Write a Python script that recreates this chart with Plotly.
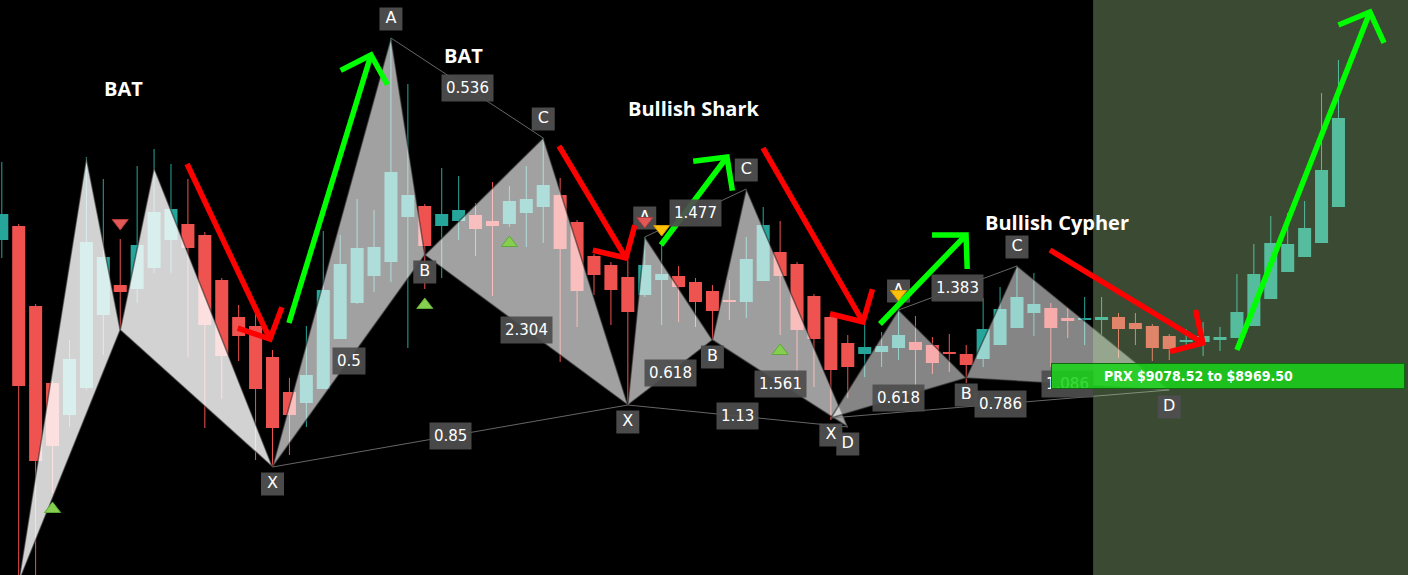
import math
import plotly.graph_objects as go

# ---------------- candle data (price) ----------------
opens = [9160, 9174, 9094, 9017, 8985, 9012, 9085, 9115, 9111, 9132,
         9160, 9176, 9165, 9120, 9083, 9074, 9043, 9008, 8997, 9011,
         9061, 9097, 9124, 9138, 9183, 9194, 9174, 9179, 9185, 9179,
         9176, 9187, 9193, 9205, 9178, 9144, 9135, 9123, 9105, 9120,
         9124, 9118, 9109, 9099, 9098, 9119, 9148, 9136, 9104, 9083,
         9057, 9046, 9048, 9052, 9058, 9055, 9047, 9046, 9041, 9055,
         9072, 9087, 9092, 9082, 9080, 9080, 9083, 9077, 9074, 9064,
         9058, 9058, 9060, 9062, 9074, 9101, 9128, 9143, 9157, 9193]
highs = [9238, 9176, 9096, 9019, 9060, 9243, 9221, 9161, 9234, 9251,
         9236, 9221, 9168, 9122, 9095, 9087, 9050, 9022, 9074, 9169,
         9165, 9201, 9190, 9362, 9316, 9196, 9232, 9224, 9197, 9218,
         9214, 9234, 9262, 9222, 9180, 9146, 9138, 9140, 9163, 9155,
         9134, 9122, 9115, 9120, 9163, 9193, 9179, 9138, 9106, 9085,
         9065, 9077, 9068, 9090, 9084, 9063, 9066, 9055, 9102, 9113,
         9134, 9127, 9097, 9092, 9103, 9103, 9087, 9087, 9076, 9066,
         9071, 9078, 9073, 9126, 9156, 9184, 9187, 9199, 9307, 9340]
lows = [9142, 8810, 8810, 8907, 8973, 9010, 9045, 9070, 9097, 9127,
        9127, 9043, 8972, 9001, 9039, 8940, 8933, 8945, 8973, 9011,
        9061, 9096, 9108, 9118, 9052, 9111, 9122, 9160, 9144, 9104,
        9173, 9153, 9157, 9038, 9073, 9105, 9075, 8995, 9103, 9075,
        9078, 9073, 9060, 9080, 9082, 9119, 9065, 9023, 9013, 8980,
        9002, 9023, 9033, 9040, 9007, 9026, 9028, 9017, 9033, 9055,
        9072, 9064, 9033, 9062, 9055, 9065, 9042, 9055, 9039, 9040,
        9050, 9044, 9049, 9062, 9074, 9101, 9128, 9143, 9157, 9193]
closes = [9186, 9014, 8939, 8954, 9041, 9158, 9143, 9108, 9155, 9188,
          9191, 9152, 9075, 9044, 9064, 9011, 8972, 8985, 9025, 9110,
          9136, 9152, 9153, 9228, 9205, 9154, 9186, 9190, 9171, 9174,
          9199, 9201, 9215, 9151, 9109, 9125, 9110, 9088, 9135, 9126,
          9113, 9098, 9089, 9098, 9141, 9175, 9124, 9070, 9061, 9030,
          9033, 9053, 9054, 9065, 9050, 9037, 9046, 9035, 9071, 9091,
          9103, 9096, 9072, 9079, 9082, 9083, 9071, 9071, 9052, 9051,
          9059, 9064, 9063, 9088, 9126, 9157, 9156, 9172, 9230, 9282]

# ---------------- harmonic patterns (candle index, price) ----------------
bat1_x = [1, 5, 7, 9, 16]
bat1_y = [8818, 9242, 9070, 9232, 8933]
bat2_x = [16, 23, 25, 32, 37]
bat2_y = [8933, 9362, 9145, 9262, 8995]
shark_x = [37, 38, 42, 44, 50]
shark_y = [8995, 9163, 9060, 9211, 8973]
cypher_x = [49, 53, 57, 60, 69]
cypher_y = [8982, 9090, 9022, 9134, 9010]

# ratios: XB, AC, BD, XD
bat2_ratios = ["0.5", "0.536", "2.304", "0.85"]
shark_ratios = ["0.618", "1.477", "1.561", "1.13"]
cypher_ratios = ["0.618", "1.383", "1.086", "0.786"]

pattern_names = ["BAT", "BAT", "Bullish Shark", "Bullish Cypher"]
title_x = [7.22, 27.26, 40.91, 62.36]
title_y = [9312, 9345, 9292, 9178]

# signals (candle index)
buy_idx = [3, 25, 30, 46]
sell_idx = [7, 38]
alert_idx = [39, 53]

# trend arrows: start idx, start price, end idx, end price
arrow_x0 = [10.95, 16.97, 32.93, 38.96, 44.99, 51.90, 61.95, 73.00]
arrow_y0 = [9236, 9077, 9254, 9155, 9252, 9076, 9150, 9050]
arrow_x1 = [15.85, 21.82, 36.89, 42.86, 50.90, 56.99, 70.99, 80.86]
arrow_y1 = [9061, 9345, 9142, 9243, 9078, 9165, 9057, 9388]
arrow_dir = ["down", "up", "down", "up", "down", "up", "down", "up"]

# projected reversal zone
highlight_start = 64.5
prx_start = 62
prx_high = 9078.52
prx_low = 8969.50

# ---------------- layout constants ----------------
W, H = 1408, 575
XR = [-0.106, 83.11]
YR = [8825, 9400]
sx = W / (XR[1] - XR[0])
sy = H / (YR[1] - YR[0])

TEAL = "#26a69a"
RED = "#ef5350"

fig = go.Figure()

n = len(opens)
idx = list(range(n))
up = [closes[i] >= opens[i] for i in idx]

# wicks
for color, flag in ((TEAL, True), (RED, False)):
    wx, wy = [], []
    for i in idx:
        if up[i] == flag:
            wx += [i, i, None]
            wy += [lows[i], highs[i], None]
    fig.add_trace(go.Scatter(x=wx, y=wy, mode="lines",
                             line=dict(color=color, width=1), hoverinfo="skip"))

# bodies
for color, flag in ((TEAL, True), (RED, False)):
    bx = [i for i in idx if up[i] == flag]
    base = [min(opens[i], closes[i]) for i in bx]
    hgt = [max(abs(closes[i] - opens[i]), 1.6) for i in bx]
    fig.add_trace(go.Bar(x=bx, y=hgt, base=base, width=0.77,
                         marker=dict(color=color, line=dict(width=0)),
                         hoverinfo="skip"))

# pattern polygons
patterns = [(bat1_x, bat1_y, "rgba(255,255,255,0.825)"),
            (bat2_x, bat2_y, "rgba(255,255,255,0.63)"),
            (shark_x, shark_y, "rgba(255,255,255,0.62)"),
            (cypher_x, cypher_y, "rgba(255,255,255,0.52)")]
for px, py, fc in patterns:
    for a, b, c in ((0, 1, 2), (2, 3, 4)):
        fig.add_trace(go.Scatter(x=[px[a], px[b], px[c], px[a]],
                                 y=[py[a], py[b], py[c], py[a]],
                                 mode="lines", fill="toself", fillcolor=fc,
                                 line=dict(color="rgba(30,30,30,0.55)", width=1.5),
                                 hoverinfo="skip"))

# thin connector lines A-C and X-D
labeled = [(bat2_x, bat2_y, bat2_ratios),
           (shark_x, shark_y, shark_ratios),
           (cypher_x, cypher_y, cypher_ratios)]
lx, ly = [], []
for px, py, _ in labeled:
    lx += [px[1], px[3], None, px[0], px[4], None]
    ly += [py[1], py[3], None, py[0], py[4], None]
fig.add_trace(go.Scatter(x=lx, y=ly, mode="lines",
                         line=dict(color="rgba(120,120,120,0.85)", width=1),
                         hoverinfo="skip"))

# highlighted (future) region
fig.add_trace(go.Scatter(x=[highlight_start, XR[1] + 5, XR[1] + 5, highlight_start, highlight_start],
                         y=[YR[0] - 50, YR[0] - 50, YR[1] + 50, YR[1] + 50, YR[0] - 50],
                         mode="lines", fill="toself",
                         fillcolor="rgba(190,242,165,0.31)",
                         line=dict(width=0), hoverinfo="skip"))

# vertex labels
vx, vy, vt = [], [], []
vertex_sets = [(bat2_x, bat2_y, "XABC"),
               (shark_x, shark_y, "XABCD"),
               (cypher_x, cypher_y, "XABCD")]
names = "XABCD"
for px, py, show in vertex_sets:
    for k, nm in enumerate(names):
        if nm not in show:
            continue
        vx.append(px[k])
        vy.append(py[k] + (19 if nm in "AC" else -17) / sy)
        vt.append(nm)
fig.add_trace(go.Scatter(x=vx, y=vy, mode="markers+text", text=vt,
                         textposition="middle center",
                         textfont=dict(family="DejaVu Sans", size=16, color="white"),
                         marker=dict(symbol="square", size=23,
                                     color="rgba(78,78,78,0.96)", line=dict(width=0)),
                         hoverinfo="skip"))

# signal markers
fig.add_trace(go.Scatter(x=buy_idx, y=[lows[i] - 16 / sy for i in buy_idx], mode="markers",
                         marker=dict(symbol="triangle-up", size=14, color="#86cf4e",
                                     line=dict(color="#5fa83a", width=1)), hoverinfo="skip"))
fig.add_trace(go.Scatter(x=sell_idx, y=[highs[i] + 16 / sy for i in sell_idx], mode="markers",
                         marker=dict(symbol="triangle-down", size=14, color="#e35757",
                                     line=dict(color="#b23a3a", width=1)), hoverinfo="skip"))
fig.add_trace(go.Scatter(x=alert_idx, y=[highs[i] + 16 / sy for i in alert_idx], mode="markers",
                         marker=dict(symbol="triangle-down", size=14, color="#ffc107",
                                     line=dict(color="#d49a00", width=1)), hoverinfo="skip"))

# arrows
HEAD = 34
ANG = 46
for x0, y0, x1, y1, d in zip(arrow_x0, arrow_y0, arrow_x1, arrow_y1, arrow_dir):
    dx = (x1 - x0) * sx
    dy = (y1 - y0) * sy
    L = math.hypot(dx, dy)
    bxu, byu = -dx / L, -dy / L
    heads = []
    for a in (ANG, -ANG):
        r = math.radians(a)
        hx = bxu * math.cos(r) - byu * math.sin(r)
        hy = bxu * math.sin(r) + byu * math.cos(r)
        heads.append((x1 + HEAD * hx / sx, y1 + HEAD * hy / sy))
    col = "#00ff00" if d == "up" else "#ff0000"
    fig.add_trace(go.Scatter(x=[x0, x1, None, heads[0][0], x1, heads[1][0]],
                             y=[y0, y1, None, heads[0][1], y1, heads[1][1]],
                             mode="lines", line=dict(color=col, width=5.5),
                             hoverinfo="skip"))

annotations = []
# ratio labels at segment midpoints
for px, py, rt in labeled:
    segs = [(0, 2), (1, 3), (2, 4), (0, 4)]
    for (a, b), txt in zip(segs, rt):
        annotations.append(dict(x=(px[a] + px[b]) / 2, y=(py[a] + py[b]) / 2,
                                text=txt, showarrow=False,
                                font=dict(family="DejaVu Sans", size=15, color="white"),
                                bgcolor="rgba(78,78,78,0.93)", borderpad=4))
# pattern titles
for t, x, y in zip(pattern_names, title_x, title_y):
    annotations.append(dict(x=x, y=y, text="<b>%s</b>" % t, showarrow=False,
                            font=dict(family="Open Sans", size=20, color="white")))
# PRX zone bar
prx_mid = (prx_high + prx_low) / 2
annotations.append(dict(x=prx_start, y=prx_mid, xanchor="left",
                        yanchor="middle", text=" ", showarrow=False,
                        width=352, height=24, borderpad=0, borderwidth=1,
                        bordercolor="#0d6a0d", bgcolor="rgba(24,212,24,0.86)"))
annotations.append(dict(x=highlight_start + 0.55, y=prx_mid,
                        xanchor="left", yanchor="middle",
                        text="<b>PRX $%.2f to $%.2f</b>" % (prx_high, prx_low),
                        showarrow=False,
                        font=dict(family="DejaVu Sans Condensed, Liberation Sans Narrow, Roboto",
                                  size=14, color="white")))

fig.update_layout(
    width=W, height=H,
    margin=dict(l=0, r=0, t=0, b=0),
    paper_bgcolor="black", plot_bgcolor="black",
    showlegend=False, hovermode=False, barmode="overlay",
    xaxis=dict(range=XR, visible=False, fixedrange=True),
    yaxis=dict(range=YR, visible=False, fixedrange=True),
    annotations=annotations,
)

fig.write_html("out.html", config={"displayModeBar": False},
               post_script="document.body.style.margin='0';document.body.style.overflow='hidden';")
